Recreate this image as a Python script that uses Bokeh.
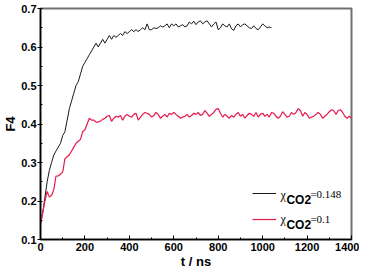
from bokeh.plotting import figure
from bokeh.models import Legend, LegendItem, Label, FixedTicker, Range1d
from bokeh.embed import file_html
from bokeh.resources import INLINE

t_black = list(range(0, 1041, 10))
f4_black = [0.14, 0.17, 0.21, 0.25, 0.28, 0.30, 0.32, 0.33, 0.34, 0.35,
            0.37, 0.38, 0.41, 0.44, 0.46, 0.48, 0.50, 0.51, 0.53, 0.55,
            0.56, 0.57, 0.58, 0.59, 0.60, 0.61, 0.60, 0.61, 0.62, 0.61,
            0.62, 0.63, 0.62, 0.63, 0.625, 0.63, 0.635, 0.63, 0.64, 0.635,
            0.64, 0.645, 0.64, 0.645, 0.64, 0.645, 0.65, 0.645, 0.66, 0.645,
            0.645, 0.65, 0.648, 0.65, 0.655, 0.652, 0.655, 0.66, 0.65, 0.66,
            0.655, 0.66, 0.652, 0.655, 0.658, 0.652, 0.655, 0.665, 0.66, 0.667,
            0.658, 0.665, 0.668, 0.66, 0.665, 0.668, 0.66, 0.652, 0.66, 0.665,
            0.645, 0.65, 0.66, 0.655, 0.652, 0.66, 0.647, 0.643, 0.655, 0.66,
            0.652, 0.658, 0.66, 0.655, 0.65, 0.648, 0.655, 0.648, 0.645, 0.652,
            0.66, 0.655, 0.65, 0.652, 0.65]

t_red = list(range(0, 1401, 10))
f4_red = [0.14, 0.17, 0.20, 0.225, 0.21, 0.215, 0.23, 0.265, 0.265, 0.27,
          0.275, 0.31, 0.315, 0.32, 0.33, 0.34, 0.35, 0.355, 0.36, 0.38,
          0.385, 0.40, 0.415, 0.41, 0.41, 0.405, 0.405, 0.408, 0.412, 0.415,
          0.42, 0.422, 0.407, 0.415, 0.42, 0.418, 0.422, 0.41, 0.42, 0.425,
          0.42, 0.418, 0.425, 0.428, 0.41, 0.418, 0.425, 0.43, 0.428, 0.425,
          0.418, 0.422, 0.43, 0.425, 0.415, 0.42, 0.425, 0.418, 0.428, 0.425,
          0.43, 0.425, 0.42, 0.415, 0.418, 0.42, 0.425, 0.418, 0.422, 0.428,
          0.425, 0.43, 0.422, 0.425, 0.435, 0.428, 0.42, 0.425, 0.43, 0.438,
          0.44, 0.428, 0.418, 0.425, 0.42, 0.415, 0.422, 0.418, 0.425, 0.43,
          0.42, 0.425, 0.415, 0.422, 0.428, 0.425, 0.42, 0.43, 0.418, 0.425,
          0.428, 0.42, 0.425, 0.418, 0.43, 0.428, 0.42, 0.415, 0.42, 0.432,
          0.425, 0.418, 0.42, 0.43, 0.425, 0.43, 0.44, 0.435, 0.42, 0.43,
          0.425, 0.415, 0.418, 0.42, 0.425, 0.43, 0.425, 0.415, 0.42, 0.425,
          0.432, 0.437, 0.435, 0.425, 0.435, 0.437, 0.43, 0.42, 0.415, 0.42,
          0.415]

x_ticks = [0, 200, 400, 600, 800, 1000, 1200, 1400]
y_ticks = [0.1, 0.2, 0.3, 0.4, 0.5, 0.6, 0.7]

FONT = "Liberation Sans"
SERIF = "Liberation Serif"

p = figure(frame_width=311, frame_height=231, output_backend="svg",
           toolbar_location=None,
           x_range=Range1d(0, 1400), y_range=Range1d(0.1, 0.7),
           min_border_left=39, min_border_right=8, min_border_top=8,
           min_border_bottom=30)
p.grid.visible = False
p.outline_line_color = "#707070"
p.outline_line_width = 2
p.background_fill_color = "white"
p.border_fill_color = "white"

p.xaxis.ticker = FixedTicker(ticks=x_ticks, minor_ticks=list(range(0, 1401, 100)))
p.yaxis.ticker = FixedTicker(ticks=y_ticks,
                             minor_ticks=[round(0.1 + 0.05 * i, 2) for i in range(13)])
p.xaxis.axis_label = "t / ns"
p.yaxis.axis_label = "F4"
for ax in (p.xaxis[0], p.yaxis[0]):
    ax.axis_line_color = "black"
    ax.axis_line_width = 1.5
    ax.major_tick_line_color = "black"
    ax.minor_tick_line_color = "black"
    ax.major_label_text_font = FONT
    ax.major_label_text_font_style = "bold"
    ax.major_label_text_font_size = "11px"
    ax.major_label_text_color = "black"
    ax.axis_label_text_font = FONT
    ax.axis_label_text_font_style = "bold"
    ax.axis_label_text_font_size = "13px"
    ax.axis_label_text_color = "black"
p.xaxis.major_tick_in = 4
p.xaxis.major_tick_out = 0
p.xaxis.minor_tick_in = 2
p.xaxis.minor_tick_out = 0
p.xaxis.major_label_standoff = 3
p.xaxis.axis_label_standoff = 0
p.yaxis.major_tick_in = 0
p.yaxis.major_tick_out = 3
p.yaxis.minor_tick_in = 2
p.yaxis.minor_tick_out = 0
p.yaxis.major_label_standoff = 1
p.yaxis.axis_label_standoff = 0

r1 = p.line(t_black, f4_black, line_color="#1a1a1a", line_width=1)
r2 = p.line(t_red, f4_red, line_color="#e5194b", line_width=1.2)

legend = Legend(items=[LegendItem(label=" ", renderers=[r1]),
                       LegendItem(label=" ", renderers=[r2])],
                location=(212, 15), padding=0, margin=0, spacing=16,
                glyph_width=24, glyph_height=10, label_height=10,
                label_text_font_size="6px", border_line_alpha=0,
                background_fill_alpha=0)
p.add_layout(legend, "center")

def lab(x, y, text, font, size, style="normal"):
    p.add_layout(Label(x=x, y=y, text=text, text_font=font, text_font_size=size,
                       text_font_style=style, text_baseline="middle",
                       text_align="left", text_color="black"))

lab(1080, 0.2156, "χ", SERIF, "12px")
lab(1107, 0.2013, "CO2", FONT, "12px", "bold")
lab(1215, 0.2169, "=0.148", SERIF, "11px")
lab(1080, 0.152, "χ", SERIF, "12px")
lab(1107, 0.1364, "CO2", FONT, "12px", "bold")
lab(1215, 0.152, "=0.1", SERIF, "11px")

open("out.html", "w").write(file_html(p, INLINE))
